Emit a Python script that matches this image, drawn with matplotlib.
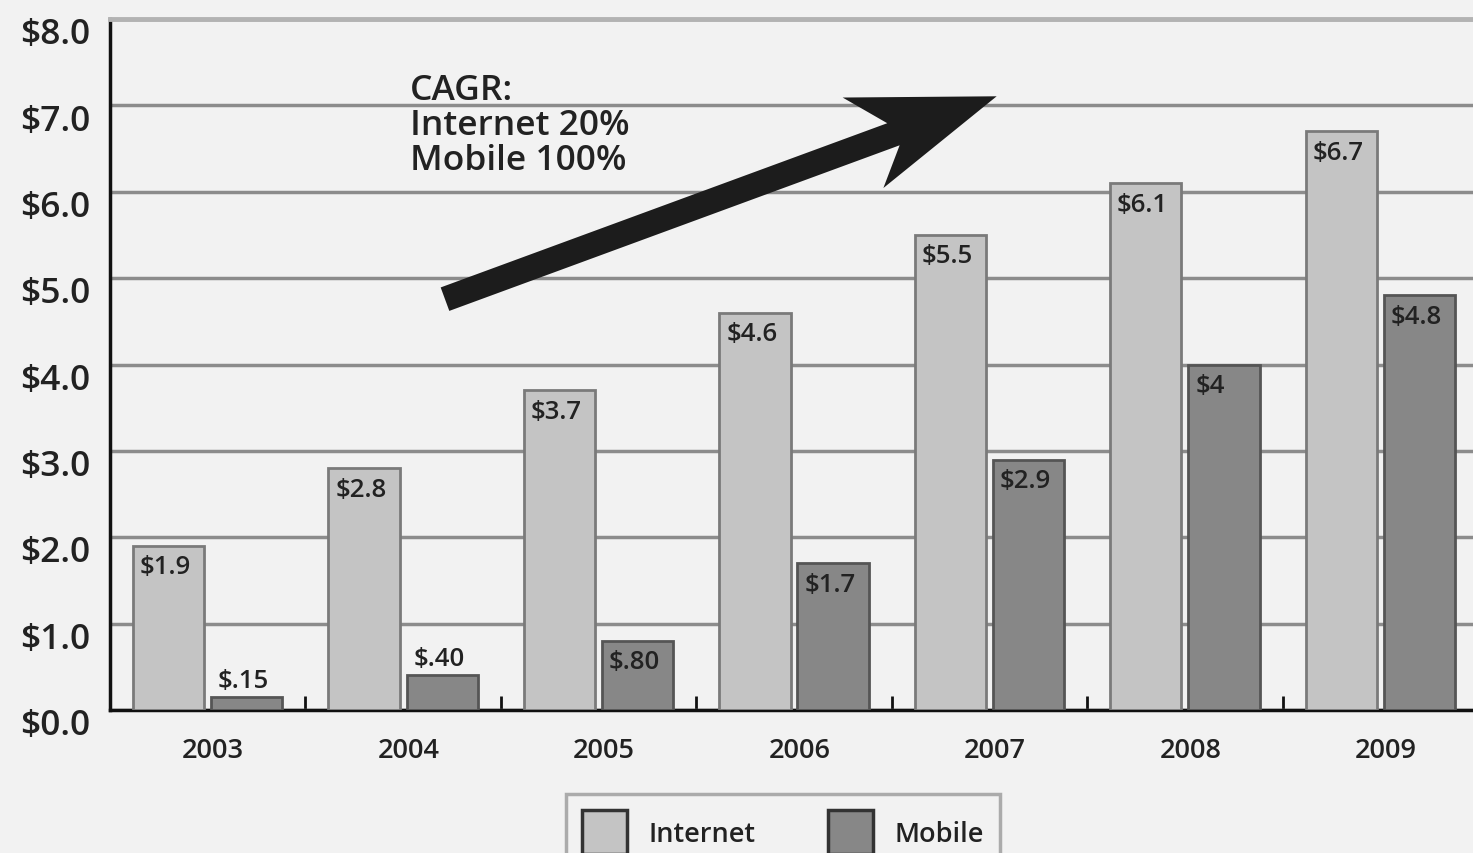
import matplotlib.pyplot as plt
import matplotlib.transforms as mtransforms
from matplotlib.patches import Polygon
import numpy as np

plt.rcParams['font.family'] = ['Open Sans', 'DejaVu Sans']
plt.rcParams['font.weight'] = 'semibold'

# data
years = ['2003', '2004', '2005', '2006', '2007', '2008', '2009']
internet = [1.9, 2.8, 3.7, 4.6, 5.5, 6.1, 6.7]
mobile = [0.15, 0.40, 0.80, 1.7, 2.9, 4.0, 4.8]
internet_labels = ['$1.9', '$2.8', '$3.7', '$4.6', '$5.5', '$6.1', '$6.7']
mobile_labels = ['$.15', '$.40', '$.80', '$1.7', '$2.9', '$4', '$4.8']
y_ticks = [0, 1, 2, 3, 4, 5, 6, 7, 8]
y_labels = ['$0.0', '$1.0', '$2.0', '$3.0', '$4.0', '$5.0', '$6.0', '$7.0', '$8.0']

bg = '#f2f2f2'
txt = '#222222'
c_int = '#c4c4c4'
c_mob = '#878787'

fig = plt.figure(figsize=(14.73, 8.54), dpi=100, facecolor=bg)
ax = fig.add_axes([0.0747, 0.1674, 0.9287, 0.8091], facecolor=bg)

x = np.arange(len(years))
w = 0.365
bi = ax.bar(x - 0.2, internet, w, color=c_int, edgecolor='#7a7a7a', linewidth=2, label='Internet', zorder=3)
bm = ax.bar(x + 0.2, mobile, w, color=c_mob, edgecolor='#555555', linewidth=2, label='Mobile', zorder=3)

# value labels, left aligned in the bar top (small ones above the bar)
for rects, labs, vals in [(bi, internet_labels, internet), (bm, mobile_labels, mobile)]:
    for r, lab, v in zip(rects, labs, vals):
        if v < 0.5:
            ax.annotate(lab, (r.get_x(), v), xytext=(5, 3), textcoords='offset points',
                        ha='left', va='bottom', fontsize=18.5, color=txt, zorder=5)
        else:
            ax.annotate(lab, (r.get_x(), v), xytext=(5, -6), textcoords='offset points',
                        ha='left', va='top', fontsize=18.5, color=txt, zorder=5)

ax.set_xlim(-0.5, 6.5)
ax.set_ylim(0, 8)
ax.set_yticks(y_ticks)
ax.set_yticklabels(y_labels, fontsize=25.5, color=txt)
ax.tick_params(axis='y', length=0, pad=14)
shift_down = mtransforms.ScaledTranslation(0, -8 / 72, fig.dpi_scale_trans)
for lab in ax.get_yticklabels():
    lab.set_transform(lab.get_transform() + shift_down)

# year labels on minor ticks, small marks between groups on major ticks
ax.set_xticks(x + 0.5)
ax.set_xticklabels([])
ax.tick_params(axis='x', which='major', direction='in', length=10, width=2, color='#111111')
ax.set_xticks(x, minor=True)
ax.set_xticklabels(years, minor=True, fontsize=19.5, color=txt)
ax.tick_params(axis='x', which='minor', length=0, pad=19)
shift_right = mtransforms.ScaledTranslation(4 / 72, 0, fig.dpi_scale_trans)
for lab in ax.get_xticklabels(minor=True):
    lab.set_transform(lab.get_transform() + shift_right)

ax.yaxis.grid(True, color='#8c8c8c', linewidth=2.5, zorder=0)
ax.set_axisbelow(True)
ax.spines['right'].set_visible(False)
ax.spines['top'].set_color('#b3b3b3')
ax.spines['top'].set_linewidth(3.5)
ax.spines['left'].set_linewidth(2.5)
ax.spines['left'].set_color('#111111')
ax.spines['bottom'].set_linewidth(2.5)
ax.spines['bottom'].set_color('#111111')

# CAGR note
ax.text(1.035, 7.38, 'CAGR:\nInternet 20%\nMobile 100%', ha='left', va='top',
        fontsize=25.5, color=txt, linespacing=1.04, zorder=6)

# big notched arrow, built in pixel space between two data points
tail = ax.transData.transform((1.214, 4.757))
tip = ax.transData.transform((4.037, 7.106))
u = (tip - tail) / np.hypot(*(tip - tail))
n = np.array([-u[1], u[0]])
L = np.hypot(*(tip - tail))
local = [(0, 0), (-145, 52), (-112, 12.5), (-L, 12.5), (-L, -12.5), (-108, -12.5), (-138, -47)]
verts = [tip + a * u + b * n for a, b in local]
ax.add_patch(Polygon(verts, closed=True, facecolor='#1c1c1c', edgecolor='none',
                     transform=None, zorder=6))

leg = ax.legend(loc='upper center', bbox_to_anchor=(0.492, -0.1216), ncol=2,
                fontsize=19.5, frameon=True, fancybox=False, handlelength=1.65,
                handleheight=2.1, columnspacing=2.7, handletextpad=0.8, borderpad=0.6,
                borderaxespad=0)
leg.get_frame().set_edgecolor('#999999')
leg.get_frame().set_linewidth(2.5)
leg.get_frame().set_facecolor(bg)
for h in leg.legend_handles:
    h.set_edgecolor('#333333')
    h.set_linewidth(2.5)
for t in leg.get_texts():
    t.set_color(txt)

fig.savefig('out.png', dpi=100, facecolor=bg)
